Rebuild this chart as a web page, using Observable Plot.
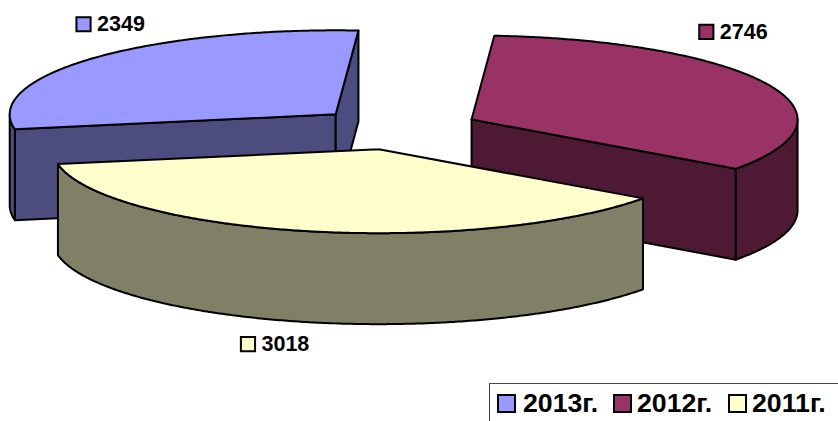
<!DOCTYPE html>
<html>
<head>
<meta charset="utf-8">
<script src="https://cdn.jsdelivr.net/npm/d3@7"></script>
<script src="https://cdn.jsdelivr.net/npm/@observablehq/plot@0.6"></script>
<style>
  html, body { margin: 0; padding: 0; background: #fff; overflow: hidden; width: 838px; height: 421px; }
  #chart { position: relative; width: 838px; height: 421px; overflow: hidden; font-family: "Liberation Sans", Arial, sans-serif; font-weight: bold; color: #000; }
  #chart svg { display: block; position: absolute; left: 0; top: 0; }
  #legend { position: absolute; left: 489px; top: 383px; width: 400px; height: 60px; border: 1px solid #444; box-sizing: border-box; }
  .key { position: absolute; top: 10px; width: 19px; height: 19px; border: 2.5px solid #000; box-sizing: border-box; }
  .lab { position: absolute; top: 5px; font-size: 26.7px; line-height: 29px; white-space: nowrap; }
</style>
</head>
<body>
<div id="chart"></div>
<script>
// Data, in drawing order (clockwise)
const years = ["2013г.", "2012г.", "2011г."];
const values = [2349, 2746, 3018];

// Styles
const topColors = ["#9999FF", "#993366", "#FFFFCC"];
const wallColors = ["#4C4C7F", "#4D1933", "#808066"];

// Pie layout
const width = 838, height = 421;
const firstEdgeEnd = 4;      // degrees clockwise from north where the first slice ends
const explode = 0.2525;      // slice offset along its bisector, in radii
const depth = 1.083;         // wall height, in units of the vertical radius
const pxPerUnitX = 326, pxPerUnitY = 84, originX = 396.5, originY = 128;
const labelDx = [4, -47, -45];
const labelDy = [-34, -52, 22];
const legendKeyLeft = [7, 123, 238];
const legendLabelLeft = [33, 147, 262];

const total = d3.sum(values);
const rad = (d) => d * Math.PI / 180;
const sweeps = values.map((v) => v / total * 360);
const starts = [];
{
  let a = firstEdgeEnd - sweeps[0];
  for (const s of sweeps) { starts.push(a); a += s; }
}

const slices = values.map((v, i) => {
  const a0 = starts[i], a1 = a0 + sweeps[i], mid = (a0 + a1) / 2;
  const cx = explode * Math.sin(rad(mid));
  const cy = explode * Math.cos(rad(mid));
  return {i, v, a0, a1, mid, cx, cy};
});

const rim = (s, a, drop = 0) => ({x: s.cx + Math.sin(rad(a)), y: s.cy + Math.cos(rad(a)) - drop});
const apex = (s, drop = 0) => ({x: s.cx, y: s.cy - drop});
const arc = (s, a0, a1, drop = 0) => {
  const n = Math.max(2, Math.ceil(Math.abs(a1 - a0) * 2));
  return d3.range(n + 1).map((k) => rim(s, a0 + (a1 - a0) * k / n, drop));
};
const closed = (pts) => [...pts, pts[0]];

function faces(s) {
  const out = [];
  const wall = (pts) => out.push({pts: closed(pts), fill: wallColors[s.i]});
  // radial faces, when they look towards the viewer
  if (Math.sin(rad(s.a0)) < 0) wall([apex(s), rim(s, s.a0), rim(s, s.a0, depth), apex(s, depth)]);
  if (Math.sin(rad(s.a1)) > 0) wall([apex(s), rim(s, s.a1), rim(s, s.a1, depth), apex(s, depth)]);
  // outer curved face: the front half of the rim only
  for (const k of [-1, 0, 1]) {
    const lo = Math.max(s.a0, 90 + 360 * k), hi = Math.min(s.a1, 270 + 360 * k);
    if (hi > lo) wall([...arc(s, lo, hi), ...arc(s, hi, lo, depth)]);
  }
  out.push({pts: closed([apex(s), ...arc(s, s.a0, s.a1)]), fill: topColors[s.i]});
  return out;
}

const pieMarks = slices.flatMap(faces).map((f) =>
  Plot.line(f.pts, {x: "x", y: "y", fill: f.fill, stroke: "#000", strokeWidth: 2, strokeLinejoin: "round", curve: "linear"})
);

const labelMarks = slices.flatMap((s) => {
  const low = Math.cos(rad(s.mid)) < 0;
  const p = [rim(s, s.mid, low ? depth : 0)];
  return [
    Plot.dot(p, {x: "x", y: "y", symbol: "square", r: 8, dx: labelDx[s.i] - 13.5, dy: labelDy[s.i],
      fill: topColors[s.i], stroke: "#000", strokeWidth: 2}),
    Plot.text(p, {x: "x", y: "y", text: () => String(s.v), dx: labelDx[s.i], dy: labelDy[s.i],
      textAnchor: "start", fontSize: 21.5, fontWeight: "bold", fontFamily: "Liberation Sans, Arial, sans-serif", fill: "#000"})
  ];
});

const plot = Plot.plot({
  width, height,
  margin: 0,
  axis: null,
  style: {background: "transparent", overflow: "visible"},
  x: {domain: [-originX / pxPerUnitX, (width - originX) / pxPerUnitX], range: [0, width]},
  y: {domain: [originY / pxPerUnitY, (originY - height) / pxPerUnitY], range: [0, height]},
  marks: [...pieMarks, ...labelMarks]
});

const chart = document.getElementById("chart");
chart.appendChild(plot);

const legend = document.createElement("div");
legend.id = "legend";
years.forEach((y, i) => {
  const key = document.createElement("span");
  key.className = "key";
  key.style.left = legendKeyLeft[i] + "px";
  key.style.background = topColors[i];
  const lab = document.createElement("span");
  lab.className = "lab";
  lab.style.left = legendLabelLeft[i] + "px";
  lab.textContent = y;
  legend.append(key, lab);
});
chart.appendChild(legend);
</script>
</body>
</html>
